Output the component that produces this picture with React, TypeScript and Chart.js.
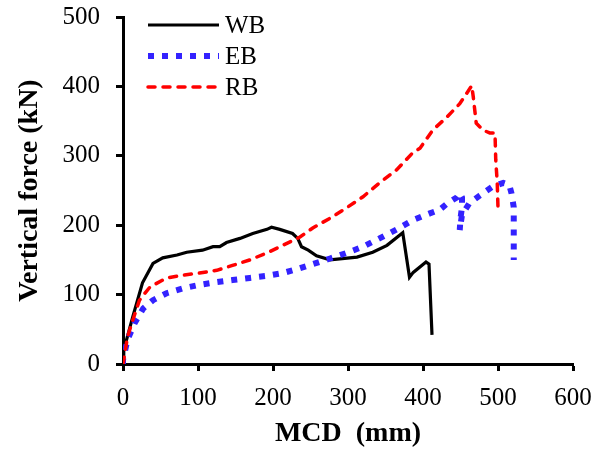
import React, { useEffect, useRef } from "react";
import { Chart, registerables } from "chart.js";

Chart.register(...registerables);

const wbX = [0, 1, 13, 26, 40, 53, 72, 85, 106, 120, 129, 138, 156, 173, 192, 198, 209, 226, 233, 238, 247, 258, 276, 312, 333, 352, 373, 382, 387, 404, 408, 412];
const wbY = [0, 20, 68, 117, 145, 153, 157, 161, 164, 169, 169, 175, 181, 188, 194, 197, 194, 188, 181, 169, 164, 156, 150, 154, 161, 171, 189, 125, 132, 147, 144, 42];

const ebX = [0, 0, 6, 16, 27, 40, 58, 80, 102, 125, 146, 169, 192, 213, 236, 253, 276, 298, 320, 342, 365, 386, 409, 422, 432, 445, 449, 452, 452, 450, 449, 452, 462, 476, 492, 507, 515, 518, 521, 521, 521];
const ebY = [0, 6, 35, 60, 80, 92, 102, 109, 114, 118, 121, 124, 127, 131, 138, 144, 152, 160, 169, 181, 194, 207, 217, 222, 231, 240, 246, 240, 226, 210, 193, 215, 232, 243, 255, 261, 258, 246, 226, 189, 150];

const rbX = [0, 1, 6, 13, 22, 36, 58, 80, 102, 125, 146, 169, 192, 213, 236, 253, 276, 298, 320, 342, 365, 386, 396, 413, 432, 449, 465, 467, 471, 480, 489, 496, 497, 499, 500];
const rbY = [0, 6, 39, 63, 92, 111, 124, 128, 131, 135, 142, 150, 160, 171, 183, 196, 210, 225, 241, 261, 280, 304, 311, 337, 356, 375, 401, 385, 347, 337, 333, 333, 294, 261, 225];

const seriesNames = ["WB", "EB", "RB"];
const xTicks = [0, 100, 200, 300, 400, 500, 600];
const yTicks = [0, 100, 200, 300, 400, 500];

const toPts = (xs: number[], ys: number[]) => xs.map((x, i) => ({ x, y: ys[i] }));

const FONT = "'Liberation Serif', 'Times New Roman', serif";

const legendPlugin = {
  id: "customLegend",
  afterDraw(chart: any) {
    const ctx = chart.ctx;
    const rows = [25, 56, 87];
    chart.data.datasets.forEach((ds: any, i: number) => {
      const y = rows[i];
      ctx.save();
      ctx.strokeStyle = ds.borderColor;
      ctx.lineWidth = ds.borderWidth;
      ctx.lineCap = ds.borderCapStyle || "butt";
      ctx.setLineDash(ds.borderDash || []);
      ctx.beginPath();
      ctx.moveTo(148, y);
      ctx.lineTo(219, y);
      ctx.stroke();
      ctx.setLineDash([]);
      ctx.fillStyle = "#000";
      ctx.font = `25px ${FONT}`;
      ctx.textBaseline = "middle";
      ctx.textAlign = "left";
      ctx.fillText(ds.label, 225, y + 1);
      ctx.restore();
    });
  },
};

export default function App() {
  const ref = useRef<HTMLCanvasElement>(null);
  useEffect(() => {
    document.body.style.margin = "0";
    const chart = new Chart(ref.current as HTMLCanvasElement, {
      type: "scatter",
      data: {
        datasets: [
          {
            label: seriesNames[0],
            data: toPts(wbX, wbY),
            showLine: true,
            borderColor: "#000000",
            borderWidth: 3.2,
            pointRadius: 0,
            tension: 0,
            order: 3,
          },
          {
            label: seriesNames[1],
            data: toPts(ebX, ebY),
            showLine: true,
            borderColor: "#3322ff",
            borderWidth: 6,
            borderDash: [6, 8],
            borderCapStyle: "butt",
            pointRadius: 0,
            tension: 0,
            order: 2,
          },
          {
            label: seriesNames[2],
            data: toPts(rbX, rbY),
            showLine: true,
            borderColor: "#ff0000",
            borderWidth: 3.5,
            borderDash: [7, 8],
            borderCapStyle: "round",
            pointRadius: 0,
            tension: 0,
            order: 1,
          },
        ],
      },
      options: {
        animation: false,
        responsive: false,
        devicePixelRatio: 1,
        layout: { padding: { top: 17, right: 20, left: 0, bottom: 0 } },
        plugins: { legend: { display: false }, tooltip: { enabled: false } },
        scales: {
          x: {
            type: "linear",
            min: 0,
            max: 600,
            afterBuildTicks: (s: any) => {
              s.ticks = xTicks.map((v) => ({ value: v }));
            },
            afterFit: (s: any) => {
              s.height = 89;
              s.paddingLeft = 0;
              s.paddingRight = 0;
            },
            grid: { drawOnChartArea: false, drawTicks: true, tickLength: 7, tickWidth: 3, color: "#000" },
            border: { display: true, width: 3, color: "#000" },
            ticks: { color: "#000", font: { family: FONT, size: 25 }, padding: 12, maxRotation: 0 },
            title: {
              display: true,
              text: "MCD  (mm)",
              color: "#000",
              font: { family: FONT, size: 28, weight: "bold" },
              padding: { top: 0, bottom: 2 },
            },
          },
          y: {
            type: "linear",
            min: 0,
            max: 500,
            afterBuildTicks: (s: any) => {
              s.ticks = yTicks.map((v) => ({ value: v }));
            },
            afterFit: (s: any) => {
              s.width = 123;
              s.paddingTop = 0;
              s.paddingBottom = 0;
            },
            grid: { drawOnChartArea: false, drawTicks: true, tickLength: 7, tickWidth: 3, color: "#000" },
            border: { display: true, width: 3, color: "#000" },
            ticks: { color: "#000", font: { family: FONT, size: 25 }, padding: 16 },
            title: {
              display: true,
              text: "Vertical force (kN)",
              color: "#000",
              font: { family: FONT, size: 28, weight: "bold" },
              padding: { top: 13, bottom: 0 },
            },
          },
        },
      },
      plugins: [legendPlugin],
    } as any);
    return () => chart.destroy();
  }, []);
  return (
    <div style={{ width: 593, height: 453 }}>
      <canvas ref={ref} width={593} height={453} style={{ display: "block" }} />
    </div>
  );
}
